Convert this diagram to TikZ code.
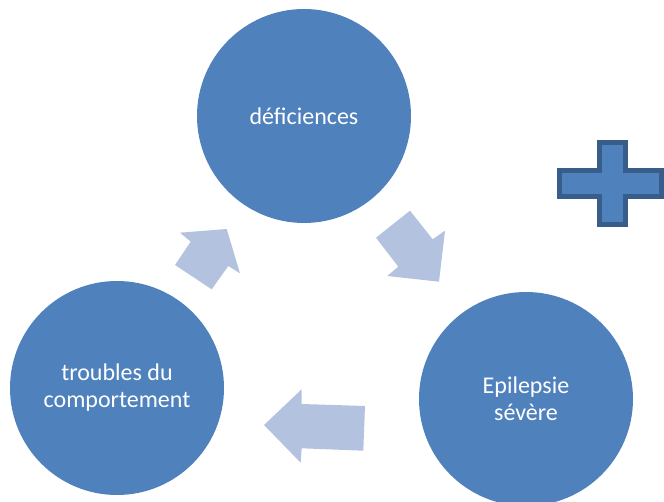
\documentclass[tikz,border=0pt]{standalone}
\usepackage{fontspec}
\setmainfont{Carlito}
\usepackage{tikz}
\definecolor{cyclefill}{RGB}{79,129,189}
\definecolor{arrowfill}{RGB}{179,194,222}
\definecolor{plusline}{RGB}{56,93,138}
\tikzstyle{stage}=[circle,fill=cyclefill,text=white,inner sep=0mm,minimum size=214pt,align=center,font=\fontsize{24}{27}\selectfont]
\tikzstyle{blockarrow}=[fill=arrowfill]
\tikzstyle{plus}=[fill=cyclefill,draw=plusline,line width=5pt,line join=miter]

\begin{document}
\begin{tikzpicture}[x=1pt,y=-1pt]
      \useasboundingbox (0,0) rectangle (664,502);
      \clip (0,0) rectangle (664,502);
      \node[stage] at (304,116) (def) {déficiences};
      \node[stage] at (526,399) (epi) {Epilepsie\\sévère};
      \node[stage] at (117,388) (tro) {troubles du\\comportement};
      % arrows of the cycle
      \fill[blockarrow] (226.7,229) -- (240,273.3) -- (228.3,266) -- (211.7,289.3)
        -- (175,265) -- (190.7,241.7) -- (180,232.7) -- cycle;
      \fill[blockarrow] (439,281.7) -- (387.3,276) -- (398.3,266.7) -- (376,237.7)
        -- (410,210.7) -- (432.7,239.3) -- (445,230.7) -- cycle;
      \fill[blockarrow] (264,425) -- (301.7,389.3) -- (301.7,404) -- (365,406)
        -- (363.3,450.7) -- (301.7,448.3) -- (300.7,462.7) -- cycle;
      % plus sign
      \draw[plus] (599.5,142.5) -- (625.5,142.5) -- (625.5,170.5) -- (661,170.5)
        -- (661,196.5) -- (625.5,196.5) -- (625.5,224.5) -- (599.5,224.5)
        -- (599.5,196.5) -- (559.5,196.5) -- (559.5,170.5) -- (599.5,170.5) -- cycle;
\end{tikzpicture}
\end{document}
